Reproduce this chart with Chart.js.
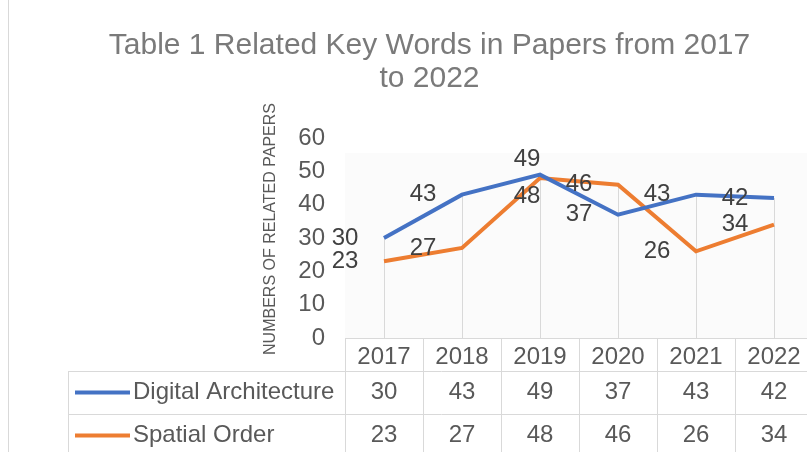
<!DOCTYPE html>
<html>
<head>
<meta charset="utf-8">
<script src="https://cdn.jsdelivr.net/npm/chart.js@4"></script>
<style>
html, body { margin: 0; padding: 0; background: #fff; overflow: hidden; }
#wrap { width: 815px; height: 452px; }
</style>
</head>
<body>
<div id="wrap"><canvas id="chart"></canvas></div>
<script>
const years = ['2017', '2018', '2019', '2020', '2021', '2022'];
const digitalArchitecture = [30, 43, 49, 37, 43, 42];
const spatialOrder = [23, 27, 48, 46, 26, 34];
const seriesNames = ['Digital Architecture', 'Spatial Order'];
const yTickMax = 60;
const yTickStep = 10;

const FONT = "'Liberation Sans', Arial, sans-serif";
const gridColor = '#d9d9d9';
const textColor = '#595959';
const seriesColors = ['#4472C4', '#ED7D31'];
// where the value label sits next to each point
const labelPlace = [
    ['left', 'left', 'above', 'left', 'left', 'left'],
    ['left', 'left', 'below', 'left', 'left', 'left']
];

const tablePlugin = {
    id: 'dataTable',
    beforeDatasetsDraw(chart) {
        const { ctx, chartArea } = chart;
        const xs = chart.scales.x, ys = chart.scales.y;
        ctx.save();
        // faint plot background
        ctx.fillStyle = '#fbfbfb';
        ctx.fillRect(chartArea.left, 153, chartArea.right - chartArea.left, chartArea.bottom - 153);
        // drop lines from the highest point down to the axis
        ctx.strokeStyle = gridColor;
        ctx.lineWidth = 1;
        years.forEach((yr, i) => {
            const top = Math.max(digitalArchitecture[i], spatialOrder[i]);
            const px = Math.round(xs.getPixelForValue(i)) + 0.5;
            ctx.beginPath();
            ctx.moveTo(px, ys.getPixelForValue(top));
            ctx.lineTo(px, chartArea.bottom);
            ctx.stroke();
        });
        // y axis title
        ctx.translate(271, 229);
        ctx.rotate(-Math.PI / 2);
        ctx.fillStyle = textColor;
        ctx.font = '16px ' + FONT;
        ctx.textAlign = 'center';
        ctx.textBaseline = 'middle';
        ctx.fillText('NUMBERS OF RELATED PAPERS', 0, 0);
        ctx.restore();
    },
    afterDatasetsDraw(chart) {
        const { ctx } = chart;
        const xs = chart.scales.x;
        const step = xs.getPixelForValue(1) - xs.getPixelForValue(0);
        ctx.save();
        ctx.font = '24px ' + FONT;
        ctx.fillStyle = '#404040';
        ctx.textAlign = 'center';
        ctx.textBaseline = 'middle';
        chart.data.datasets.forEach((ds, d) => {
            const meta = chart.getDatasetMeta(d);
            meta.data.forEach((pt, i) => {
                let x = pt.x, y = pt.y;
                const place = labelPlace[d][i];
                if (place === 'left') x -= step / 2;
                else if (place === 'above') { x -= 13; y -= 15; }
                else { x -= 13; y += 18; }
                ctx.fillText(String(ds.data[i]), x, y);
            });
        });
        ctx.restore();
    },
    afterDraw(chart) {
        const { ctx, chartArea, height } = chart;
        const xs = chart.scales.x;
        const step = xs.getPixelForValue(1) - xs.getPixelForValue(0);
        const tableLeft = 68;
        const headTop = chartArea.bottom;
        const headBottom = xs.bottom;
        const rowH = 43;
        const rows = [digitalArchitecture, spatialOrder];

        ctx.save();
        ctx.strokeStyle = gridColor;
        ctx.lineWidth = 1;
        // outer frame line on the left
        ctx.beginPath();
        ctx.moveTo(8.5, 0);
        ctx.lineTo(8.5, height);
        ctx.stroke();
        // axis line / header top
        ctx.beginPath();
        ctx.moveTo(chartArea.left, Math.round(headTop) + 0.5);
        ctx.lineTo(chart.width, Math.round(headTop) + 0.5);
        ctx.stroke();
        // row lines
        for (let r = 0; r < rows.length; r++) {
            const yy = Math.round(headBottom + r * rowH) + 0.5;
            ctx.beginPath();
            ctx.moveTo(tableLeft, yy);
            ctx.lineTo(chart.width, yy);
            ctx.stroke();
        }
        // left table border
        ctx.beginPath();
        ctx.moveTo(tableLeft + 0.5, headBottom);
        ctx.lineTo(tableLeft + 0.5, height);
        ctx.stroke();
        // column borders
        for (let i = 0; i <= years.length; i++) {
            const cx = Math.round(xs.getPixelForValue(i) - step / 2) + 0.5;
            ctx.beginPath();
            ctx.moveTo(cx, headTop);
            ctx.lineTo(cx, height);
            ctx.stroke();
        }

        // legend keys and names
        ctx.textBaseline = 'middle';
        ctx.font = '24px ' + FONT;
        rows.forEach((vals, r) => {
            const cy = headBottom + rowH * (r + 0.5);
            ctx.strokeStyle = seriesColors[r];
            ctx.lineWidth = 4;
            ctx.beginPath();
            ctx.moveTo(75, cy);
            ctx.lineTo(130, cy);
            ctx.stroke();
            ctx.fillStyle = textColor;
            ctx.textAlign = 'left';
            ctx.fillText(seriesNames[r], 133, cy);
            ctx.textAlign = 'center';
            vals.forEach((v, i) => {
                ctx.fillText(String(v), xs.getPixelForValue(i), cy);
            });
        });
        ctx.restore();
    }
};

new Chart(document.getElementById('chart'), {
    type: 'line',
    data: {
        labels: years,
        datasets: [
            {
                label: seriesNames[0],
                data: digitalArchitecture,
                borderColor: seriesColors[0],
                borderWidth: 4,
                pointRadius: 0,
                tension: 0
            },
            {
                label: seriesNames[1],
                data: spatialOrder,
                borderColor: seriesColors[1],
                borderWidth: 4,
                pointRadius: 0,
                tension: 0
            }
        ]
    },
    options: {
        responsive: true,
        maintainAspectRatio: false,
        animation: false,
        layout: { padding: { left: 46, right: 2, bottom: 81, top: 0 } },
        plugins: {
            legend: { display: false },
            tooltip: { enabled: false },
            title: {
                display: true,
                text: ['Table 1 Related Key Words in Papers from 2017', 'to 2022'],
                color: '#7a7a7a',
                font: { family: FONT, size: 30, weight: 'normal', lineHeight: 1.1 },
                padding: { top: 29, bottom: 43 }
            }
        },
        scales: {
            x: {
                offset: true,
                grid: { display: false, drawTicks: false },
                border: { display: false },
                ticks: {
                    color: textColor,
                    font: { family: FONT, size: 24 },
                    padding: 5,
                    maxRotation: 0
                },
                afterFit(s) { s.height = 33; }
            },
            y: {
                min: 0,
                max: yTickMax,
                ticks: {
                    stepSize: yTickStep,
                    color: textColor,
                    font: { family: FONT, size: 24 },
                    padding: 20
                },
                grid: { display: false, drawTicks: false },
                border: { display: false },
                afterFit(s) { s.width = 299; }
            }
        }
    },
    plugins: [tablePlugin]
});
</script>
</body>
</html>
